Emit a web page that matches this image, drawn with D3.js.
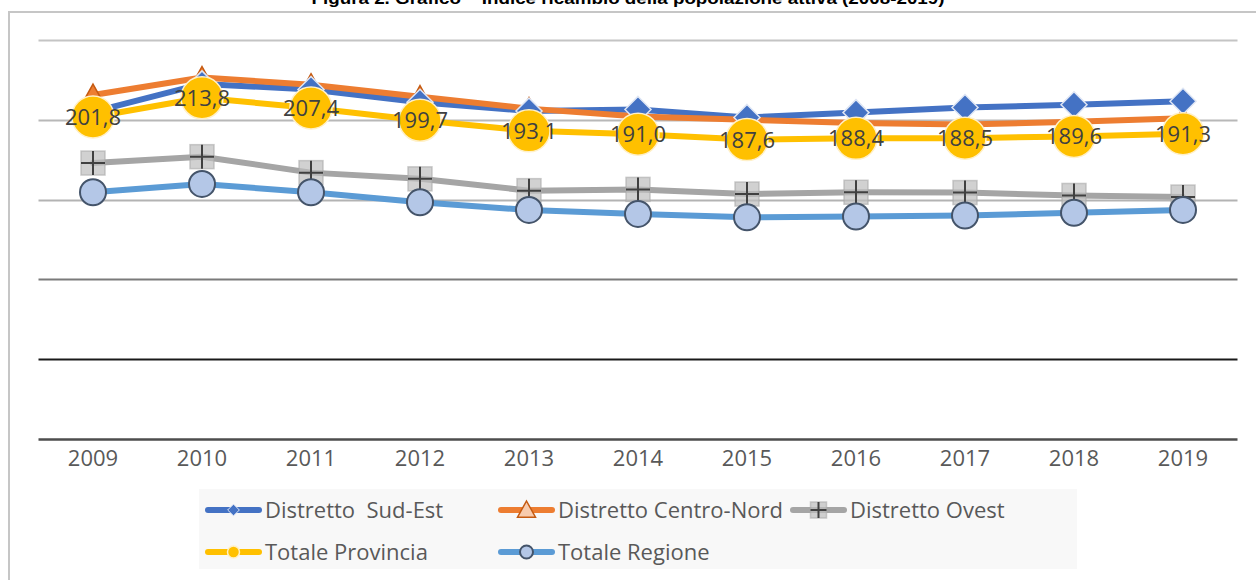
<!DOCTYPE html>
<html>
<head>
<meta charset="utf-8">
<script src="https://cdn.jsdelivr.net/npm/d3@7"></script>
<style>
  body { margin: 0; background: #fff; }
  svg { display: block; font-family: "Open Sans", "Noto Sans", sans-serif; }
</style>
</head>
<body>
<div id="wrap"></div>
<script>
// data
var years = ["2009","2010","2011","2012","2013","2014","2015","2016","2017","2018","2019"];
var sudEst      = [205.0, 222.5, 219.0, 211.0, 205.5, 206.5, 201.5, 204.5, 207.7, 209.4, 211.6];
var centroNord  = [215.5, 226.5, 222.0, 214.5, 207.0, 202.0, 200.0, 198.0, 197.0, 198.8, 201.0];
var ovest       = [172.9, 176.9, 166.9, 163.0, 155.6, 156.4, 153.5, 154.6, 154.4, 152.6, 151.6];
var provincia   = [201.8, 213.8, 207.4, 199.7, 193.1, 191.0, 187.6, 188.4, 188.5, 189.6, 191.3];
var regione     = [154.6, 159.8, 154.6, 148.3, 143.5, 141.0, 138.9, 139.4, 140.0, 141.7, 143.5];
var yTicks = [0, 50, 100, 150, 200, 250];

var series = [
  {name: "Distretto\u00a0\u00a0Sud-Est", values: sudEst, color: "#4472C4", marker: "diamond"},
  {name: "Distretto Centro-Nord", values: centroNord, color: "#ED7D31", marker: "triangle"},
  {name: "Distretto Ovest", values: ovest, color: "#A5A5A5", marker: "plus"},
  {name: "Totale Provincia", values: provincia, color: "#FFC000", marker: "bigcircle"},
  {name: "Totale Regione", values: regione, color: "#5B9BD5", marker: "circle"}
];

var W = 1256, H = 580;
var svg = d3.select('#wrap').append('svg')
  .attr('width', W).attr('height', H);

// title (cut at top edge, as in the source)
svg.append('text')
  .attr('x', 628).attr('y', 4)
  .attr('text-anchor', 'middle')
  .attr('font-family', '"Liberation Sans Narrow", "Liberation Sans", sans-serif')
  .attr('font-weight', 'bold')
  .attr('font-size', 17)
  .attr('fill', '#000')
  .attr('textLength', 633)
  .attr('lengthAdjust', 'spacingAndGlyphs')
  .text('Figura 2. Grafico \u2013 Indice ricambio della popolazione attiva (2008-2019)');

// frame
svg.append('path')
  .attr('d', 'M9,' + H + 'V12H' + W)
  .attr('fill', 'none')
  .attr('stroke', '#c6c6c6')
  .attr('stroke-width', 2);

//scales
var x = d3.scaleBand().domain(years).range([38.5, 1237.5]);
var y = d3.scaleLinear().domain([0, 250]).range([439, 40]);
var cx = function(i) { return x(years[i]) + x.bandwidth() / 2; };

// gridlines
var gridColor = {0: '#4d4d4d', 50: '#1a1a1a', 100: '#7a7a7a', 150: '#b3b3b3', 200: '#b8b8b8', 250: '#c4c4c4'};
svg.append('g').selectAll('line')
  .data(yTicks)
  .enter().append('line')
    .attr('x1', 38.5).attr('x2', 1237.5)
    .attr('y1', function(d) { return Math.round(y(d)) + 0.5; })
    .attr('y2', function(d) { return Math.round(y(d)) + 0.5; })
    .attr('stroke', function(d) { return gridColor[d]; })
    .attr('stroke-width', function(d) { return d === 0 ? 2.5 : 2; });

// x axis labels
var xAxis = d3.axisBottom(x).tickSize(0).tickPadding(0);
var gx = svg.append('g').attr('transform', 'translate(0,439)').call(xAxis);
gx.select('.domain').remove();
gx.selectAll('text')
  .attr('y', 27)
  .attr('dy', 0)
  .attr('font-family', '"Open Sans", sans-serif')
  .attr('font-size', 22)
  .attr('fill', '#595959');

// lines
var line = d3.line()
  .x(function(d, i) { return cx(i); })
  .y(function(d) { return y(d); });

svg.append('g').selectAll('path')
  .data(series)
  .enter().append('path')
    .attr('d', function(s) { return line(s.values); })
    .attr('fill', 'none')
    .attr('stroke', function(s) { return s.color; })
    .attr('stroke-width', 6)
    .attr('stroke-linejoin', 'round')
    .attr('stroke-linecap', 'round');

// markers
function drawMarker(g, type, px, py, small) {
  var k = small ? 0.45 : 1;
  if (type === 'diamond') {
    var r = 13 * k;
    g.append('path')
      .attr('d', 'M' + px + ',' + (py - r) + 'L' + (px + r) + ',' + py + 'L' + px + ',' + (py + r) + 'L' + (px - r) + ',' + py + 'Z')
      .attr('fill', '#4472C4').attr('stroke', '#dfe6f4').attr('stroke-width', small ? 1 : 1.5);
  } else if (type === 'triangle') {
    var s = small ? 9 : 11;
    g.append('path')
      .attr('d', 'M' + px + ',' + (py - s) + 'L' + (px + s) + ',' + (py + s * 0.8) + 'L' + (px - s) + ',' + (py + s * 0.8) + 'Z')
      .attr('fill', small ? '#f8cbad' : '#ED7D31').attr('stroke', '#c55a11').attr('stroke-width', 1.5);
  } else if (type === 'plus') {
    var h = small ? 8 : 12;
    g.append('rect')
      .attr('x', px - h).attr('y', py - h).attr('width', 2 * h).attr('height', 2 * h)
      .attr('fill', 'rgba(190,190,190,0.7)').attr('stroke', 'rgba(170,170,170,0.6)').attr('stroke-width', 1.5);
    g.append('path')
      .attr('d', 'M' + (px - h) + ',' + py + 'H' + (px + h) + 'M' + px + ',' + (py - h) + 'V' + (py + h))
      .attr('stroke', '#404040').attr('stroke-width', 2);
  } else if (type === 'bigcircle') {
    g.append('circle')
      .attr('cx', px).attr('cy', py).attr('r', small ? 6 : 21)
      .attr('fill', '#FFC000').attr('stroke', '#fff0c8').attr('stroke-width', 1.5);
  } else if (type === 'circle') {
    g.append('circle')
      .attr('cx', px).attr('cy', py).attr('r', small ? 6.5 : 13)
      .attr('fill', '#B4C7E7').attr('stroke', '#44546A').attr('stroke-width', 2);
  }
}

var markerOrder = [1, 0, 2, 3, 4];
var gm = svg.append('g');
markerOrder.forEach(function(si) {
  var s = series[si];
  s.values.forEach(function(v, i) {
    drawMarker(gm, s.marker, cx(i), y(v), false);
  });
});

// data labels (Totale Provincia)
svg.append('g').selectAll('text')
  .data(provincia)
  .enter().append('text')
    .attr('x', function(d, i) { return cx(i); })
    .attr('y', function(d) { return y(d); })
    .attr('dy', '0.36em')
    .attr('text-anchor', 'middle')
    .attr('font-size', 22)
    .attr('fill', '#404040')
    .text(function(d) { return d3.format('.1f')(d).replace('.', ','); });

// legend
var legend = svg.append('g');
legend.append('rect')
  .attr('x', 199).attr('y', 489).attr('width', 878).attr('height', 80)
  .attr('fill', '#f8f8f8');

var legendPos = [[205, 510], [498, 510], [790, 510], [205, 552], [498, 552]];
series.forEach(function(s, i) {
  var lx = legendPos[i][0], ly = legendPos[i][1];
  legend.append('line')
    .attr('x1', lx + 3).attr('x2', lx + 54)
    .attr('y1', ly).attr('y2', ly)
    .attr('stroke', s.color).attr('stroke-width', 6)
    .attr('stroke-linecap', 'round');
  drawMarker(legend, s.marker, lx + 28.5, ly, true);
  legend.append('text')
    .attr('x', lx + 60).attr('y', ly)
    .attr('dy', '0.35em')
    .attr('font-size', 22)
    .attr('fill', '#595959')
    .text(s.name);
});
</script>
</body>
</html>
